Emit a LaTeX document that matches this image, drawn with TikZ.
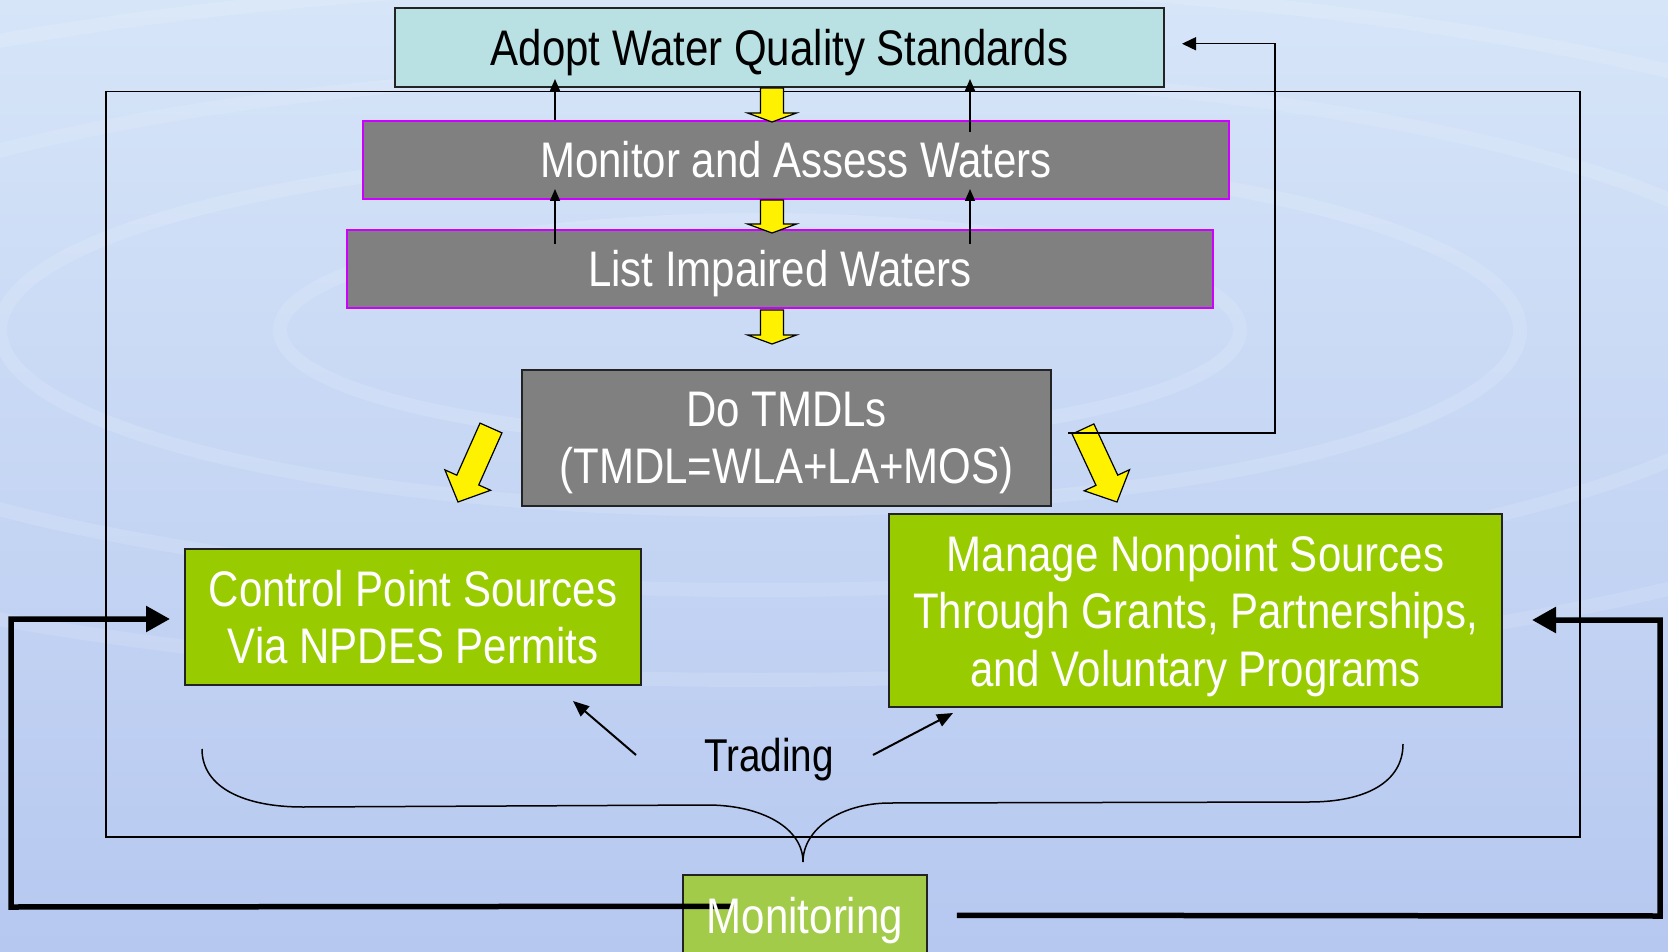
\documentclass[tikz,border=0pt]{standalone}
\usepackage{fontspec}
\setmainfont[FakeStretch=0.84]{Liberation Sans}
\usetikzlibrary{calc,arrows.meta}
\definecolor{bgtop}{RGB}{214,229,248}
\definecolor{bgmid}{RGB}{180,190,236}
\definecolor{bgbot}{RGB}{182,200,240}
\definecolor{adoptfill}{RGB}{185,224,227}
\definecolor{greyfill}{RGB}{128,128,128}
\definecolor{magentab}{RGB}{204,0,255}
\definecolor{greenfill}{RGB}{153,204,0}
\definecolor{monfill}{RGB}{163,203,74}
\definecolor{boxline}{RGB}{35,35,35}
\newcommand{\boxfont}{\fontsize{50}{57.5}\selectfont}
\newcommand{\yellowblock}[5]{%
  \coordinate (ybBase) at ($(#2)!#5!(#1)$);
  \draw[yblock] ($(#1)!#3!90:(#2)$) -- ($(ybBase)!#3!90:(#2)$) -- ($(ybBase)!#4!90:(#2)$) -- (#2) -- ($(ybBase)!#4!-90:(#2)$) -- ($(ybBase)!#3!-90:(#2)$) -- ($(#1)!#3!-90:(#2)$) -- cycle;}
\begin{document}
\begin{tikzpicture}[x=1pt,y=-1pt,
  basebox/.style={line width=2pt, inner sep=0pt, font=\boxfont, align=center},
  single/.style={text height=35.8pt, text depth=0pt},
  adoptbox/.style={basebox, single, draw=boxline, fill=adoptfill, text=black},
  greybox/.style={basebox, single, draw=magentab, fill=greyfill, text=white},
  tmdlbox/.style={basebox, draw=boxline, fill=greyfill, text=white},
  greenbox/.style={basebox, draw=boxline, fill=greenfill, text=white},
  monbox/.style={line width=1.5pt, draw=boxline, fill=monfill, inner sep=0pt},
  montext/.style={font=\boxfont, single, text=white, inner sep=0pt},
  yblock/.style={fill=yellow, draw=black, line width=1.2pt, line join=miter},
  thinarrow/.style={line width=1.5pt, -{Triangle[length=12pt,width=10pt]}},
  fbarrow/.style={line width=1.5pt, -{Triangle[length=14pt,width=13pt]}},
  thickfb/.style={line width=5.5pt, -{Triangle[length=24pt,width=25pt]}},
  tradearrow/.style={line width=2pt, -{Triangle[length=16pt,width=13pt]}},
  framebox/.style={line width=1.5pt, draw=black},
  bracestyle/.style={line width=1.5pt, draw=black},
  ripple/.style={draw=white, opacity=0.13, line width=14pt}
]
\useasboundingbox (0,0) rectangle (1668,952);
% background
\shade[top color=bgtop, middle color=bgmid, bottom color=bgbot] (0,0) rectangle (1668,952);
\begin{scope}
\clip (0,0) rectangle (1668,952);
\draw[ripple] (760,330) ellipse [x radius=480, y radius=110];
\draw[ripple] (760,330) ellipse [x radius=760, y radius=180];
\draw[ripple] (760,330) ellipse [x radius=1050, y radius=260];
\draw[ripple] (760,330) ellipse [x radius=1350, y radius=350];
\end{scope}

% outer frame
\draw[framebox] (106,91.5) rectangle (1580,837);

% boxes
\node[adoptbox, minimum width=769pt, minimum height=78.5pt] (adopt) at (779.5,47.75) {Adopt Water Quality Standards};
\node[greybox, minimum width=866pt, minimum height=78pt] (monitor) at (796,160) {Monitor and Assess Waters};
\node[greybox, minimum width=866pt, minimum height=78.5pt] (list) at (780,269) {List Impaired Waters};
\node[tmdlbox, minimum width=529pt, minimum height=136pt] (tmdl) at (786.5,438) {Do TMDLs\\\smash{(TMDL=WLA+LA+MOS)}};
\node[greenbox, minimum width=456pt, minimum height=136pt] (control) at (413,617) {Control Point Sources\\Via NPDES Permits};
\node[greenbox, minimum width=613pt, minimum height=193pt] (manage) at (1195.5,610.5) {Manage Nonpoint Sources\\Through Grants, Partnerships,\\\smash{and Voluntary Programs}};
\node[monbox, minimum width=244pt, minimum height=115pt] (monbox) at (805,932.5) {};

% yellow block arrows
\coordinate (y1t) at (772,88);  \coordinate (y1h) at (772,122);
\coordinate (y2t) at (772,200); \coordinate (y2h) at (772,233);
\coordinate (y3t) at (772,310); \coordinate (y3h) at (772,344);
\yellowblock{y1t}{y1h}{11.5pt}{24.5pt}{9pt}
\yellowblock{y2t}{y2h}{11.5pt}{24.5pt}{9pt}
\yellowblock{y3t}{y3h}{11.5pt}{24.5pt}{9pt}
\coordinate (ylt) at (491,428);  \coordinate (ylh) at (458,502);
\coordinate (yrt) at (1083,429); \coordinate (yrh) at (1117,502);
\yellowblock{ylt}{ylh}{12pt}{25pt}{24pt}
\yellowblock{yrt}{yrh}{12pt}{25pt}{24pt}

% thin up arrows
\coordinate (xl) at (555,0);
\coordinate (xr) at (970,0);
\draw[thinarrow, shorten >=-9pt] (xl |- monitor.north) -- (xl |- adopt.south);
\draw[thinarrow, shorten >=-9pt] ($(xr |- monitor.north)+(0,12)$) -- (xr |- adopt.south);
\draw[thinarrow, shorten >=-11pt] ($(xl |- list.north)+(0,15)$) -- (xl |- monitor.south);
\draw[thinarrow, shorten >=-11pt] ($(xr |- list.north)+(0,15)$) -- (xr |- monitor.south);

% feedback TMDL -> Adopt
\coordinate (fbx) at (1275,0);
\draw[fbarrow] ($(tmdl.east)+(16,-5)$) -- ($(fbx |- tmdl.east)+(0,-5)$) -- ($(fbx |- adopt.east)+(0,-4)$) -- ($(adopt.east)+(17,-4)$);

% brace
\draw[bracestyle] (202,749) .. controls (202,788) and (245,807) .. (303,807) -- (707,805)
  .. controls (762,805) and (803,828) .. (803,862)
  .. controls (803,828) and (842,803) .. (890,803) -- (1309,802)
  .. controls (1366,802) and (1403,782) .. (1403,744);

% trading
\node[font=\fontsize{46}{50}\selectfont, text height=33pt, text depth=0pt, inner sep=0pt] (trading) at (769,755) {Trading};
\draw[tradearrow] ($(trading.west)+(-68,0)$) -- ($(control.south east)+(-69,15)$);
\draw[tradearrow] ($(trading.east)+(39,0)$) -- ($(manage.south west)+(65,5)$);

% thick monitoring feedback
\draw[thickfb] ($(monbox.north west)+(49,32)$) -- (11,907) -- (11,619) -- ($(control.west)+(-14,2)$);
\draw[thickfb] ($(monbox.north east)+(29,41)$) -- (1660,916) -- (1660,620) -- ($(manage.east)+(29,9.5)$);

\node[montext] (montxt) at (805,916) {Monitoring};
\end{tikzpicture}
\end{document}
